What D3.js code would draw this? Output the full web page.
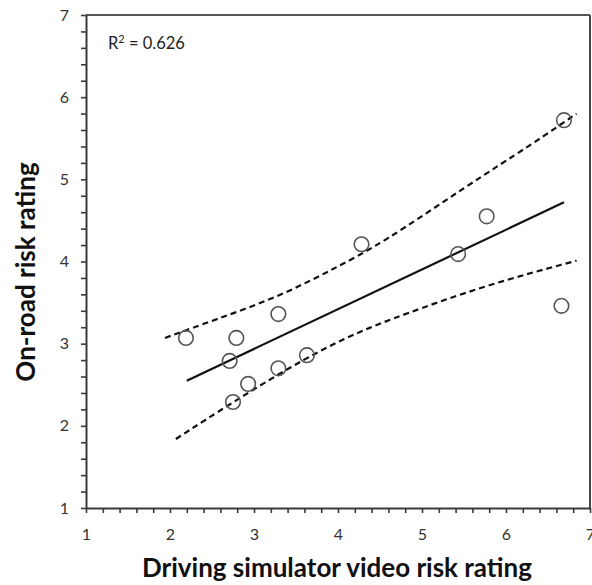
<!DOCTYPE html>
<html>
<head>
<meta charset="utf-8">
<script src="https://cdn.jsdelivr.net/npm/d3@7"></script>
<style>
  html, body { margin: 0; padding: 0; background: #fff; }
  svg { display: block; }
</style>
</head>
<body>
<svg id="chart" width="592" height="585"></svg>
<script>
// ---- data ----
const simRating  = [2.19, 2.79, 2.71, 2.93, 2.75, 3.29, 3.29, 3.63, 4.28, 5.43, 5.77, 6.69, 6.66];
const roadRating = [3.07, 3.07, 2.79, 2.51, 2.29, 3.36, 2.70, 2.86, 4.21, 4.09, 4.55, 5.72, 3.46];
const fitX = [2.20, 6.69];
const fitY = [2.55, 4.72];
const upperX = [1.94, 2.56, 3.27, 3.93, 4.54, 5.53, 6.33, 6.84];
const upperY = [3.07, 3.30, 3.56, 3.90, 4.23, 4.92, 5.44, 5.80];
const lowerX = [2.07, 2.75, 3.63, 4.26, 4.74, 5.75, 6.84];
const lowerY = [1.84, 2.29, 2.84, 3.15, 3.34, 3.71, 4.01];
const axisDomain = [1, 7];
const r2Label = "0.626";
const xTitle = "Driving simulator video risk rating";
const yTitle = "On-road risk rating";

// ---- layout ----
const svg = d3.select("#chart");
const L = 86, R = 590, T = 15, B = 508;
const x = d3.scaleLinear().domain(axisDomain).range([L, R]);
const y = d3.scaleLinear().domain(axisDomain).range([B, T]);
const font = "Lato, 'Open Sans', sans-serif";
const axisColor = "#3a3a3a";

const minorTicks = d3.range(0, 31).map(i => 1 + i * 0.2);
const fmt = v => Math.abs(v - Math.round(v)) < 1e-6 ? String(Math.round(v)) : "";

// frame (top and right)
svg.append("line").attr("x1", x(1)).attr("x2", x(7)).attr("y1", y(7)).attr("y2", y(7))
  .attr("stroke", "#555").attr("stroke-width", 2);
svg.append("line").attr("x1", x(7)).attr("x2", x(7)).attr("y1", y(7)).attr("y2", y(1))
  .attr("stroke", "#444").attr("stroke-width", 2);

// axes
const gx = svg.append("g").attr("transform", `translate(0,${B})`)
  .call(d3.axisBottom(x).tickValues(minorTicks).tickFormat(fmt).tickSize(5).tickSizeOuter(0).tickPadding(16));
const gy = svg.append("g").attr("transform", `translate(${L},0)`)
  .call(d3.axisLeft(y).tickValues(minorTicks).tickFormat(fmt).tickSize(5).tickSizeOuter(0).tickPadding(12));
[gx, gy].forEach(g => {
  g.select(".domain").attr("stroke", axisColor).attr("stroke-width", 2);
  g.selectAll(".tick line").attr("stroke", axisColor).attr("stroke-width", 1.6);
  g.selectAll(".tick text").attr("font-family", font).attr("font-size", 16).attr("fill", "#333");
});

// confidence band curves
const line = d3.line().x(d => x(d[0])).y(d => y(d[1])).curve(d3.curveBasis);
svg.append("path").datum(upperX.map((v, i) => [v, upperY[i]]))
  .attr("d", line).attr("fill", "none").attr("stroke", "#111")
  .attr("stroke-width", 2.2).attr("stroke-dasharray", "6,4");
svg.append("path").datum(lowerX.map((v, i) => [v, lowerY[i]]))
  .attr("d", line).attr("fill", "none").attr("stroke", "#111")
  .attr("stroke-width", 2.2).attr("stroke-dasharray", "6,4");

// regression line
svg.append("path").datum(fitX.map((v, i) => [v, fitY[i]]))
  .attr("d", d3.line().x(d => x(d[0])).y(d => y(d[1])))
  .attr("fill", "none").attr("stroke", "#111").attr("stroke-width", 2.2);

// points
svg.append("g").selectAll("circle")
  .data(simRating.map((v, i) => [v, roadRating[i]]))
  .join("circle")
  .attr("cx", d => x(d[0])).attr("cy", d => y(d[1])).attr("r", 7.3)
  .attr("fill", "none").attr("stroke", "#555").attr("stroke-width", 1.6);

// R² annotation
const r2 = svg.append("text").attr("x", 108).attr("y", 49)
  .attr("font-family", font).attr("font-size", 16.5).attr("fill", "#222");
r2.append("tspan").text("R");
r2.append("tspan").attr("font-size", 11).attr("dy", -6).text("2");
r2.append("tspan").attr("dy", 6).text(" = " + r2Label);

// axis titles
svg.append("text").attr("x", 337).attr("y", 577).attr("text-anchor", "middle")
  .attr("font-family", font).attr("font-weight", "bold").attr("font-size", 26).attr("fill", "#111")
  .text(xTitle);
svg.append("text").attr("transform", `translate(35,272) rotate(-90)`)
  .attr("text-anchor", "middle")
  .attr("font-family", font).attr("font-weight", "bold").attr("font-size", 26).attr("fill", "#111")
  .text(yTitle);
</script>
</body>
</html>
